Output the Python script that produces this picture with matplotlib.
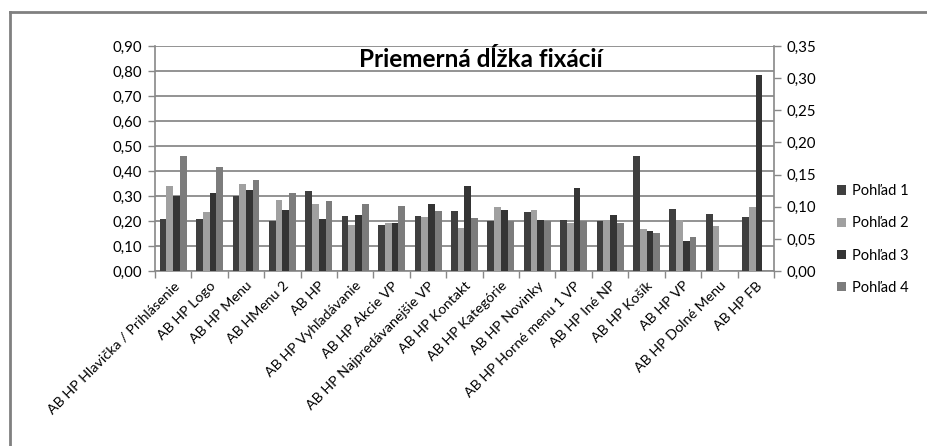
import matplotlib
matplotlib.use("Agg")
import matplotlib.pyplot as plt
from matplotlib.ticker import FuncFormatter, MultipleLocator, FixedLocator
from matplotlib.lines import Line2D
import numpy as np

plt.rcParams['font.family'] = ['Lato', 'DejaVu Sans']

# kategórie oblastí záujmu
kategorie = [
    "AB HP Hlavička / Prihlásenie", "AB HP Logo", "AB HP Menu", "AB HMenu 2",
    "AB HP", "AB HP Vyhľadávanie", "AB HP Akcie VP", "AB HP Najpredávanejšie VP",
    "AB HP Kontakt", "AB HP Kategórie", "AB HP Novinky", "AB HP Horné menu 1 VP",
    "AB HP Iné NP", "AB HP Košík", "AB HP VP", "AB HP Dolné Menu", "AB HP FB",
]

pohlad1 = [0.207, 0.209, 0.300, 0.200, 0.320, 0.220, 0.183, 0.220, 0.240,
           0.200, 0.236, 0.205, 0.200, 0.461, 0.249, 0.230, 0.215]
pohlad2 = [0.339, 0.235, 0.347, 0.285, 0.269, 0.185, 0.192, 0.216, 0.173,
           0.255, 0.243, 0.192, 0.205, 0.168, 0.205, 0.180, 0.257]
pohlad3 = [0.299, 0.312, 0.325, 0.243, 0.209, 0.224, 0.192, 0.269, 0.339,
           0.244, 0.205, 0.332, 0.223, 0.161, 0.122, np.nan, 0.785]
pohlad4 = [0.461, 0.416, 0.365, 0.312, 0.281, 0.269, 0.259, 0.239, 0.213,
           0.200, 0.200, 0.200, 0.191, 0.153, 0.138, np.nan, np.nan]

serie = [pohlad1, pohlad2, pohlad3, pohlad4]
nazvy = ["Pohľad 1", "Pohľad 2", "Pohľad 3", "Pohľad 4"]
farby = ["#3f3f3f", "#a0a0a0", "#343434", "#7c7c7c"]

fig = plt.figure(figsize=(9.28, 4.46), dpi=100)
ax = fig.add_axes([0.167, 0.392, 0.667, 0.505])

x = np.arange(len(kategorie))
sirka = 0.185
for i, (hodnoty, nazov, farba) in enumerate(zip(serie, nazvy, farby)):
    ax.bar(x + (i - 1.5) * sirka, hodnoty, sirka, color=farba, label=nazov, zorder=3)

ax.set_xlim(-0.5, len(kategorie) - 0.5)
ax.set_ylim(0, 0.9)
ciarka = FuncFormatter(lambda v, p: f"{v:.2f}".replace(".", ","))
ax.yaxis.set_major_locator(MultipleLocator(0.1))
ax.yaxis.set_major_formatter(ciarka)
ax.grid(axis='y', color="#8a8a8a", linewidth=1.3, zorder=0)

ax.set_xticks(x)
ax.set_xticklabels(kategorie, rotation=45, ha='right', rotation_mode='anchor', fontsize=10.3)
ax.tick_params(axis='x', which='major', length=0, pad=6)
ax.xaxis.set_minor_locator(FixedLocator(np.arange(-0.5, len(kategorie), 1.0)))
ax.tick_params(axis='x', which='minor', length=5, color="#888888", width=1)
ax.tick_params(axis='y', length=5, color="#888888", width=1, labelsize=10.8, pad=4)

for s in ['top', 'right']:
    ax.spines[s].set_visible(False)
for s in ['left', 'bottom']:
    ax.spines[s].set_color("#888888")
    ax.spines[s].set_linewidth(1.2)

# pravá os
ax2 = ax.twinx()
ax2.set_ylim(0, 0.35)
ax2.yaxis.set_major_locator(MultipleLocator(0.05))
ax2.yaxis.set_major_formatter(ciarka)
ax2.tick_params(axis='y', length=5, color="#888888", width=1, labelsize=10.8, pad=4)
for s in ['top', 'left', 'bottom']:
    ax2.spines[s].set_visible(False)
ax2.spines['right'].set_color("#888888")
ax2.spines['right'].set_linewidth(1.2)

fig.text(0.518, 0.866, "Priemerná dĺžka fixácií", ha='center', va='center',
         fontsize=17.5, fontweight='bold')

fig.legend(loc='center left', bbox_to_anchor=(0.896, 0.463), frameon=False,
           fontsize=10.5, handlelength=0.6, handleheight=0.6, handletextpad=0.4,
           labelspacing=1.25, borderaxespad=0)

# rám
fig.add_artist(Line2D([0.0105, 0.0105], [0.0, 0.972], color="#808080", linewidth=2))
fig.add_artist(Line2D([0.0105, 1.0], [0.972, 0.972], color="#808080", linewidth=2))

fig.savefig("out.png", dpi=100)
